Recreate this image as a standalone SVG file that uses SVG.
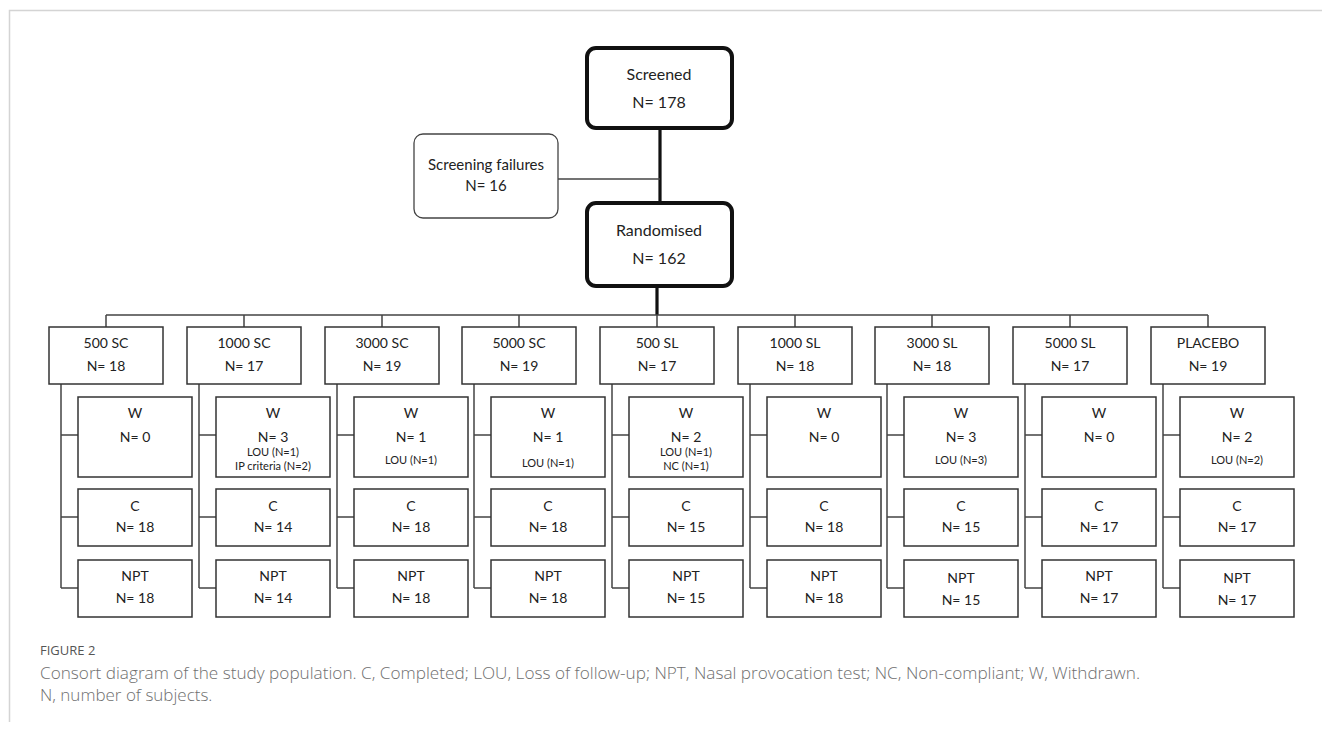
<svg xmlns="http://www.w3.org/2000/svg" width="1322" height="729" viewBox="0 0 1322 729">
<style>
text{font-family:Lato,"Open Sans","Liberation Sans",sans-serif;fill:#222;text-anchor:middle}
.t16{font-size:16px}.t15{font-size:15px}.t14{font-size:14px}.t10{font-size:11px}
.big{fill:#fff;stroke:#111;stroke-width:4}
.fail{fill:#fff;stroke:#444;stroke-width:1.3}
.box{fill:#fff;stroke:#333;stroke-width:1.5}
.ln{stroke:#444;stroke-width:1.5;fill:none}
.thick{stroke:#111;stroke-width:3.2;fill:none}
.cap{font-family:"Open Sans","Liberation Sans",sans-serif;text-anchor:start;fill:#6f6f6f;font-weight:300}
</style>
<g id="frame"><path d="M9.5 722 V10.5 H1322" fill="none" stroke="#d4d4d4" stroke-width="1.5"/></g>
<g id="connectors">
<path class="thick" d="M660 129 V201 M657 287 V315"/>
<path class="ln" d="M558 179 H660"/>
<path class="ln" d="M106 315 H1208 M106 315 V327 M244 315 V327 M382 315 V327 M519 315 V327 M657 315 V327 M795 315 V327 M932 315 V327 M1070 315 V327 M1208 315 V327"/>
<path class="ln" d="M61 384 V588 M61 435 H78 M61 517 H78 M61 588 H78"/>
<path class="ln" d="M199 384 V588 M199 435 H216 M199 517 H216 M199 588 H216"/>
<path class="ln" d="M337 384 V588 M337 435 H354 M337 517 H354 M337 588 H354"/>
<path class="ln" d="M474 384 V588 M474 435 H491 M474 517 H491 M474 588 H491"/>
<path class="ln" d="M612 384 V588 M612 435 H629 M612 517 H629 M612 588 H629"/>
<path class="ln" d="M750 384 V588 M750 435 H767 M750 517 H767 M750 588 H767"/>
<path class="ln" d="M887 384 V588 M887 435 H904 M887 517 H904 M887 588 H904"/>
<path class="ln" d="M1025 384 V588 M1025 435 H1042 M1025 517 H1042 M1025 588 H1042"/>
<path class="ln" d="M1163 384 V588 M1163 435 H1180 M1163 517 H1180 M1163 588 H1180"/>
</g>
<g id="screened"><rect class="big" x="587" y="48" width="145" height="80" rx="9"/><text class="t16" x="659" y="80">Screened</text><text class="t16" x="659" y="108">N= 178</text></g>
<g id="failures"><rect class="fail" x="414" y="134" width="144" height="84" rx="9"/><text class="t15" x="486" y="170">Screening failures</text><text class="t15" x="486" y="191">N= 16</text></g>
<g id="randomised"><rect class="big" x="587" y="203" width="145" height="83" rx="9"/><text class="t16" x="659" y="236">Randomised</text><text class="t16" x="659" y="264">N= 162</text></g>

<g id="g500sc"><rect class="box" x="49" y="327" width="114" height="57"/><text class="t14" x="106" y="348">500 SC</text><text class="t14" x="106" y="371">N= 18</text></g>
<g id="g1000sc"><rect class="box" x="187" y="327" width="114" height="57"/><text class="t14" x="244" y="348">1000 SC</text><text class="t14" x="244" y="371">N= 17</text></g>
<g id="g3000sc"><rect class="box" x="325" y="327" width="114" height="57"/><text class="t14" x="382" y="348">3000 SC</text><text class="t14" x="382" y="371">N= 19</text></g>
<g id="g5000sc"><rect class="box" x="462" y="327" width="114" height="57"/><text class="t14" x="519" y="348">5000 SC</text><text class="t14" x="519" y="371">N= 19</text></g>
<g id="g500sl"><rect class="box" x="600" y="327" width="114" height="57"/><text class="t14" x="657" y="348">500 SL</text><text class="t14" x="657" y="371">N= 17</text></g>
<g id="g1000sl"><rect class="box" x="738" y="327" width="114" height="57"/><text class="t14" x="795" y="348">1000 SL</text><text class="t14" x="795" y="371">N= 18</text></g>
<g id="g3000sl"><rect class="box" x="875" y="327" width="114" height="57"/><text class="t14" x="932" y="348">3000 SL</text><text class="t14" x="932" y="371">N= 18</text></g>
<g id="g5000sl"><rect class="box" x="1013" y="327" width="114" height="57"/><text class="t14" x="1070" y="348">5000 SL</text><text class="t14" x="1070" y="371">N= 17</text></g>
<g id="gplacebo"><rect class="box" x="1151" y="327" width="114" height="57"/><text class="t14" x="1208" y="348">PLACEBO</text><text class="t14" x="1208" y="371">N= 19</text></g>

<g id="w500sc"><rect class="box" x="78" y="397" width="114" height="80"/><text class="t14" x="135" y="418">W</text><text class="t14" x="135" y="442">N= 0</text></g>
<g id="c500sc"><rect class="box" x="78" y="489" width="114" height="57"/><text class="t14" x="135" y="511">C</text><text class="t14" x="135" y="532">N= 18</text></g>
<g id="n500sc"><rect class="box" x="78" y="560" width="114" height="57"/><text class="t14" x="135" y="581">NPT</text><text class="t14" x="135" y="603">N= 18</text></g>

<g id="w1000sc"><rect class="box" x="216" y="397" width="114" height="80"/><text class="t14" x="273" y="418">W</text><text class="t14" x="273" y="442">N= 3</text><text class="t10" x="273" y="456">LOU (N=1)</text><text class="t10" x="273" y="470">IP criteria (N=2)</text></g>
<g id="c1000sc"><rect class="box" x="216" y="489" width="114" height="57"/><text class="t14" x="273" y="511">C</text><text class="t14" x="273" y="532">N= 14</text></g>
<g id="n1000sc"><rect class="box" x="216" y="560" width="114" height="57"/><text class="t14" x="273" y="581">NPT</text><text class="t14" x="273" y="603">N= 14</text></g>

<g id="w3000sc"><rect class="box" x="354" y="397" width="114" height="80"/><text class="t14" x="411" y="418">W</text><text class="t14" x="411" y="442">N= 1</text><text class="t10" x="411" y="464">LOU (N=1)</text></g>
<g id="c3000sc"><rect class="box" x="354" y="489" width="114" height="57"/><text class="t14" x="411" y="511">C</text><text class="t14" x="411" y="532">N= 18</text></g>
<g id="n3000sc"><rect class="box" x="354" y="560" width="114" height="57"/><text class="t14" x="411" y="581">NPT</text><text class="t14" x="411" y="603">N= 18</text></g>

<g id="w5000sc"><rect class="box" x="491" y="397" width="114" height="80"/><text class="t14" x="548" y="418">W</text><text class="t14" x="548" y="442">N= 1</text><text class="t10" x="548" y="467">LOU (N=1)</text></g>
<g id="c5000sc"><rect class="box" x="491" y="489" width="114" height="57"/><text class="t14" x="548" y="511">C</text><text class="t14" x="548" y="532">N= 18</text></g>
<g id="n5000sc"><rect class="box" x="491" y="560" width="114" height="57"/><text class="t14" x="548" y="581">NPT</text><text class="t14" x="548" y="603">N= 18</text></g>

<g id="w500sl"><rect class="box" x="629" y="397" width="114" height="80"/><text class="t14" x="686" y="418">W</text><text class="t14" x="686" y="442">N= 2</text><text class="t10" x="686" y="456">LOU (N=1)</text><text class="t10" x="686" y="470">NC (N=1)</text></g>
<g id="c500sl"><rect class="box" x="629" y="489" width="114" height="57"/><text class="t14" x="686" y="511">C</text><text class="t14" x="686" y="532">N= 15</text></g>
<g id="n500sl"><rect class="box" x="629" y="560" width="114" height="57"/><text class="t14" x="686" y="581">NPT</text><text class="t14" x="686" y="603">N= 15</text></g>

<g id="w1000sl"><rect class="box" x="767" y="397" width="114" height="80"/><text class="t14" x="824" y="418">W</text><text class="t14" x="824" y="442">N= 0</text></g>
<g id="c1000sl"><rect class="box" x="767" y="489" width="114" height="57"/><text class="t14" x="824" y="511">C</text><text class="t14" x="824" y="532">N= 18</text></g>
<g id="n1000sl"><rect class="box" x="767" y="560" width="114" height="57"/><text class="t14" x="824" y="581">NPT</text><text class="t14" x="824" y="603">N= 18</text></g>

<g id="w3000sl"><rect class="box" x="904" y="397" width="114" height="80"/><text class="t14" x="961" y="418">W</text><text class="t14" x="961" y="442">N= 3</text><text class="t10" x="961" y="464">LOU (N=3)</text></g>
<g id="c3000sl"><rect class="box" x="904" y="489" width="114" height="57"/><text class="t14" x="961" y="511">C</text><text class="t14" x="961" y="532">N= 15</text></g>
<g id="n3000sl"><rect class="box" x="904" y="560" width="114" height="57"/><text class="t14" x="961" y="583">NPT</text><text class="t14" x="961" y="605">N= 15</text></g>

<g id="w5000sl"><rect class="box" x="1042" y="397" width="114" height="80"/><text class="t14" x="1099" y="418">W</text><text class="t14" x="1099" y="442">N= 0</text></g>
<g id="c5000sl"><rect class="box" x="1042" y="489" width="114" height="57"/><text class="t14" x="1099" y="511">C</text><text class="t14" x="1099" y="532">N= 17</text></g>
<g id="n5000sl"><rect class="box" x="1042" y="560" width="114" height="57"/><text class="t14" x="1099" y="581">NPT</text><text class="t14" x="1099" y="603">N= 17</text></g>

<g id="wplacebo"><rect class="box" x="1180" y="397" width="114" height="80"/><text class="t14" x="1237" y="418">W</text><text class="t14" x="1237" y="442">N= 2</text><text class="t10" x="1237" y="464">LOU (N=2)</text></g>
<g id="cplacebo"><rect class="box" x="1180" y="489" width="114" height="57"/><text class="t14" x="1237" y="511">C</text><text class="t14" x="1237" y="532">N= 17</text></g>
<g id="nplacebo"><rect class="box" x="1180" y="560" width="114" height="57"/><text class="t14" x="1237" y="583">NPT</text><text class="t14" x="1237" y="605">N= 17</text></g>

<g id="caption">
<text class="cap" x="40" y="655" style="font-size:13px;fill:#555;font-weight:400">FIGURE 2</text>
<text class="cap" x="40" y="679" style="font-size:17px" textLength="1100" lengthAdjust="spacingAndGlyphs">Consort diagram of the study population. C, Completed; LOU, Loss of follow-up; NPT, Nasal provocation test; NC, Non-compliant; W, Withdrawn.</text>
<text class="cap" x="40" y="701" style="font-size:17px">N, number of subjects.</text>
</g>
</svg>
